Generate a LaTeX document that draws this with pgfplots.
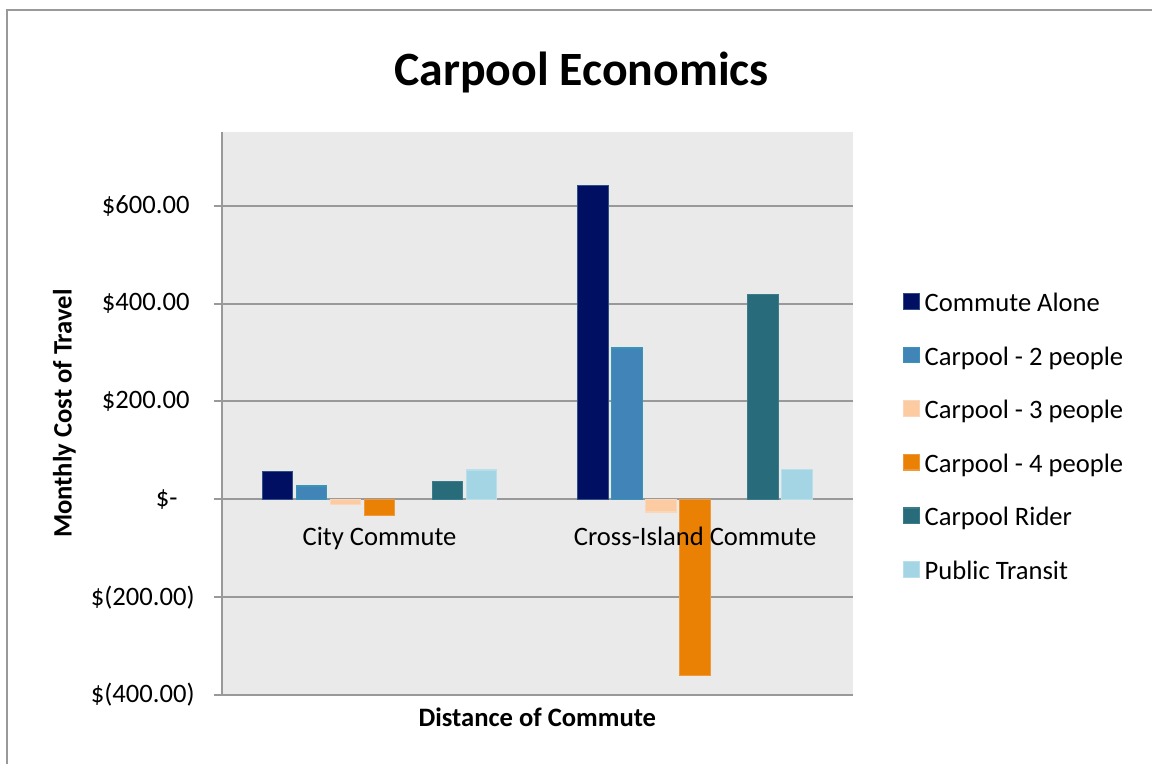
\documentclass[border=0pt]{standalone}
\usepackage{pgfplots}
\pgfplotsset{compat=1.18}
\usepackage{fontspec}
\setmainfont{Carlito}

\definecolor{gridgray}{HTML}{999999}
\definecolor{plotbg}{HTML}{EAEAEA}
\definecolor{aloneFill}{HTML}{000F62}
\definecolor{aloneDraw}{HTML}{2F4F86}
\definecolor{twoFill}{HTML}{4184B8}
\definecolor{twoDraw}{HTML}{3A94B6}
\definecolor{threeFill}{HTML}{FCCBA2}
\definecolor{threeDraw}{HTML}{FBD6B8}
\definecolor{fourFill}{HTML}{EB8104}
\definecolor{fourDraw}{HTML}{EE9A3C}
\definecolor{riderFill}{HTML}{286C7B}
\definecolor{riderDraw}{HTML}{3B7C8A}
\definecolor{transitFill}{HTML}{A3D5E4}
\definecolor{transitDraw}{HTML}{B8DFEA}

\pgfplotsset{
  carbar/.style={
    ybar, bar width=15.3pt, line width=0.6pt,
    legend image code/.code={\draw[##1] (0pt,-2.05pt) rectangle (7.8pt,5.75pt);}
  },
  % shared frame of the plot area
  plotframe/.style={
    at={(110.85pt,34.5pt)}, anchor=south west,
    scale only axis, width=315.65pt, height=281.35pt,
    xmin=-0.5, xmax=1.5, ymin=-400, ymax=750,
  },
}

\begin{document}
\fontsize{13.3}{16}\selectfont
\begin{tikzpicture}
\useasboundingbox (0,0) rectangle (576pt,382pt);
% chart frame, left and top edges
\draw[gridgray, line width=1pt] (3.5pt,-2pt) -- (3.5pt,376.75pt) -- (580pt,376.75pt);
\begin{axis}[
  plotframe,
  axis x line=bottom, axis y line=left,
  axis line style={-, draw=gridgray, line width=1pt},
  axis background/.style={fill=plotbg},
  ymajorgrids, grid style={draw=gridgray, line width=1pt},
  xtick={0,1}, xticklabels={}, xtick style={draw=none},
  ytick={-400,-200,0,200,400,600},
  yticklabels={{\$(400.00)}, {\$(200.00)}, {\$-\hspace*{8.5pt}}, {\$200.00\hspace*{2.5pt}}, {\$400.00\hspace*{2.5pt}}, {\$600.00\hspace*{2.5pt}}},
  ytick align=outside, major tick length=4pt,
  ytick style={draw=gridgray, line width=1pt},
  yticklabel style={anchor=east, inner sep=0pt, xshift=-9.35pt},
  title={Carpool Economics},
  title style={font=\fontsize{23.9}{28}\selectfont\bfseries, at={(axis description cs:0.570,1.0610)}, anchor=base},
  xlabel={Distance of Commute},
  xlabel style={font=\bfseries, at={(axis description cs:0.5,-0.0563)}, anchor=base},
  ylabel={Monthly Cost of Travel},
  ylabel style={font=\bfseries, at={(axis description cs:-0.2376,0.5)}, anchor=base},
  legend cell align=left,
  legend style={at={(axis description cs:1.0787,0.7176)}, anchor=north west,
    draw=none, fill=none, inner sep=0pt, row sep=13.3pt, column sep=2.4pt,
    nodes={inner sep=0pt, text height=10pt, text depth=3.5pt}},
]
% categories: 0 = City Commute, 1 = Cross-Island Commute
\addplot[carbar, bar shift=-51pt, fill=aloneFill, draw=aloneDraw] coordinates {(0,56) (1,642)};
\addlegendentry{Commute Alone}
\addplot[carbar, bar shift=-34pt, fill=twoFill, draw=twoDraw] coordinates {(0,27) (1,309)};
\addlegendentry{Carpool - 2 people}
\addplot[carbar, bar shift=-17pt, fill=threeFill, draw=threeDraw] coordinates {(0,-10) (1,-26)};
\addlegendentry{Carpool - 3 people}
\addplot[carbar, bar shift=0pt, fill=fourFill, draw=fourDraw] coordinates {(0,-34) (1,-360)};
\addlegendentry{Carpool - 4 people}
\addplot[carbar, bar shift=34pt, fill=riderFill, draw=riderDraw] coordinates {(0,37) (1,418)};
\addlegendentry{Carpool Rider}
\addplot[carbar, bar shift=51pt, fill=transitFill, draw=transitDraw] coordinates {(0,60) (1,61)};
\addlegendentry{Public Transit}
\end{axis}
% category names, set over the bars
\begin{axis}[
  plotframe,
  axis line style={draw=none},
  ytick=\empty,
  xtick={0,1}, xticklabels={City Commute, Cross-Island Commute},
  xtick style={draw=none},
  xticklabel style={anchor=base, yshift=74.5pt},
]
\end{axis}
\end{tikzpicture}
\end{document}
